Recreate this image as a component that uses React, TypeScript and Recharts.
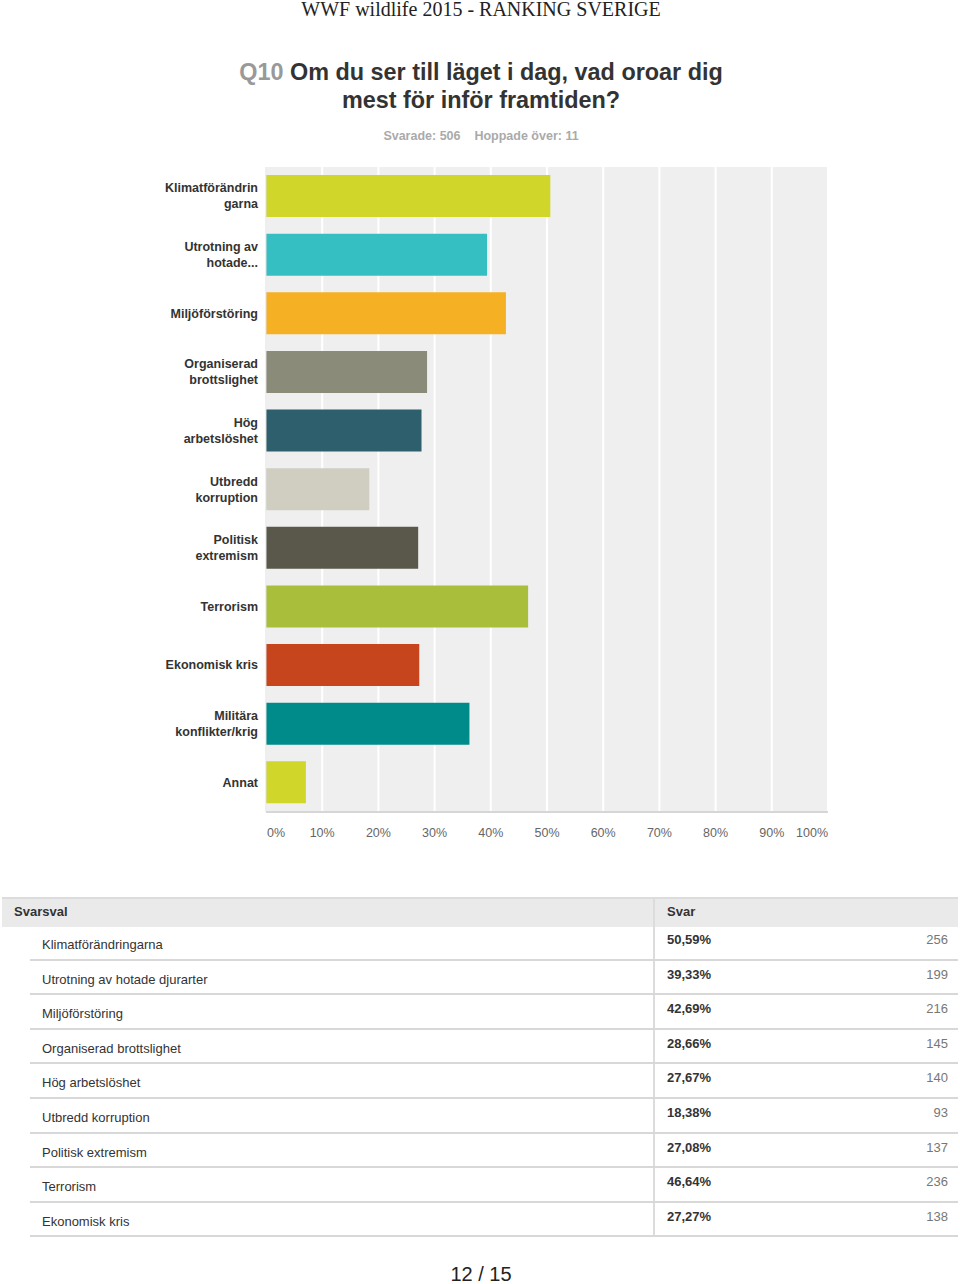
import { BarChart, Bar, XAxis, YAxis, CartesianGrid, Cell } from "recharts";

const categories = [
  "Klimatförändrin\ngarna",
  "Utrotning av\nhotade...",
  "Miljöförstöring",
  "Organiserad\nbrottslighet",
  "Hög\narbetslöshet",
  "Utbredd\nkorruption",
  "Politisk\nextremism",
  "Terrorism",
  "Ekonomisk kris",
  "Militära\nkonflikter/krig",
  "Annat",
];
const shares = [50.59, 39.33, 42.69, 28.66, 27.67, 18.38, 27.08, 46.64, 27.27, 36.2, 7.1];
const barColors = [
  "#d0d62a",
  "#36bfc3",
  "#f6b023",
  "#8b8b79",
  "#2d5f6d",
  "#d0cdc1",
  "#5a584a",
  "#a9bf3b",
  "#c6451d",
  "#008b8b",
  "#d0d62a",
];
const xTicks = [0, 10, 20, 30, 40, 50, 60, 70, 80, 90, 100];

const tableNames = [
  "Klimatförändringarna",
  "Utrotning av hotade djurarter",
  "Miljöförstöring",
  "Organiserad brottslighet",
  "Hög arbetslöshet",
  "Utbredd korruption",
  "Politisk extremism",
  "Terrorism",
  "Ekonomisk kris",
];
const tablePercents = ["50,59%", "39,33%", "42,69%", "28,66%", "27,67%", "18,38%", "27,08%", "46,64%", "27,27%"];
const tableCounts = [256, 199, 216, 145, 140, 93, 137, 236, 138];

const data = categories.map((name, i) => ({ name, value: shares[i] }));

const font = "'Liberation Sans', Arial, Helvetica, sans-serif";

const YTick = ({ x, y, payload }: any) => {
  const lines = String(payload.value).split("\n");
  const lh = 16;
  const start = -((lines.length - 1) * lh) / 2 + 4;
  return (
    <text x={x} y={y} textAnchor="end" fill="#333" fontSize={12.5} fontWeight="bold" fontFamily={font}>
      {lines.map((l, i) => (
        <tspan key={i} x={x} dy={i === 0 ? start : lh}>
          {l}
        </tspan>
      ))}
    </text>
  );
};

const XTick = ({ x, y, payload, index }: any) => {
  const anchor = index === 0 ? "start" : index === xTicks.length - 1 ? "end" : "middle";
  const dx = index === 0 ? 1 : 0;
  return (
    <text x={x + dx} y={y + 17} textAnchor={anchor} fill="#666" fontSize={12.5} fontFamily={font}>
      {payload.value}%
    </text>
  );
};

const ROW_TOP = 925;
const ROW_H = 34.6;

export default function App() {
  return (
    <div style={{ position: "absolute", left: 0, top: 0, width: 960, height: 1284, background: "#fff", fontFamily: font }}>
      <div
        style={{
          position: "absolute",
          top: -2,
          left: 0,
          width: 962,
          textAlign: "center",
          fontFamily: "'Liberation Serif', 'Times New Roman', serif",
          fontSize: 20,
          color: "#222",
        }}
      >
        WWF wildlife 2015 - RANKING SVERIGE
      </div>

      <div
        style={{
          position: "absolute",
          top: 58,
          left: 0,
          width: 962,
          textAlign: "center",
          fontSize: 23.4,
          fontWeight: "bold",
          color: "#333",
          lineHeight: "28px",
        }}
      >
        <span style={{ color: "#999" }}>Q10</span> Om du ser till läget i dag, vad oroar dig
        <br />
        mest för inför framtiden?
      </div>

      <div
        style={{
          position: "absolute",
          top: 129,
          left: 0,
          width: 962,
          textAlign: "center",
          fontSize: 12.5,
          fontWeight: "bold",
          color: "#aaa",
        }}
      >
        Svarade: 506&nbsp;&nbsp;&nbsp;&nbsp;Hoppade över: 11
      </div>

      <div style={{ position: "absolute", top: 0, left: 0 }}>
        <BarChart
          width={960}
          height={850}
          data={data}
          layout="vertical"
          margin={{ top: 167, right: 132, left: 0, bottom: 0 }}
          barCategoryGap={0}
        >
          <CartesianGrid horizontal={false} stroke="#fff" strokeWidth={2} fill="#efefef" />
          <XAxis
            type="number"
            domain={[0, 100]}
            ticks={xTicks}
            interval={0}
            tick={<XTick />}
            axisLine={{ stroke: "#d6d6d6", strokeWidth: 2 }}
            tickLine={false}
            height={38}
          />
          <YAxis
            type="category"
            dataKey="name"
            width={266}
            tick={<YTick />}
            interval={0}
            axisLine={{ stroke: "#dedede" }}
            tickLine={false}
          />
          <Bar dataKey="value" barSize={42} isAnimationActive={false}>
            {data.map((d, i) => (
              <Cell key={d.name} fill={barColors[i]} />
            ))}
          </Bar>
        </BarChart>
      </div>

      {/* Table */}
      <div style={{ position: "absolute", top: 897, left: 2, width: 956, height: 28, background: "#eaeaea", borderTop: "2px solid #dcdcdc" }} />
      <div style={{ position: "absolute", top: 904, left: 14, fontSize: 13, fontWeight: "bold", color: "#333" }}>Svarsval</div>
      <div style={{ position: "absolute", top: 904, left: 667, fontSize: 13, fontWeight: "bold", color: "#333" }}>Svar</div>
      <div style={{ position: "absolute", top: 897, left: 653, width: 2, height: 1236 - 897, background: "#dcdcdc" }} />
      {tableNames.map((name, i) => {
        const top = ROW_TOP + i * ROW_H;
        return (
          <div key={name}>
            <div style={{ position: "absolute", top: top + 12, left: 42, fontSize: 13, color: "#333" }}>{name}</div>
            <div style={{ position: "absolute", top: top + 7, left: 667, fontSize: 13, fontWeight: "bold", color: "#333" }}>
              {tablePercents[i]}
            </div>
            <div style={{ position: "absolute", top: top + 7, right: 12, fontSize: 13, color: "#777" }}>{tableCounts[i]}</div>
            <div style={{ position: "absolute", top: top + ROW_H - 1, left: 30, width: 928, height: 2, background: "#d8d8d8" }} />
          </div>
        );
      })}

      <div style={{ position: "absolute", top: 1263, left: 0, width: 962, textAlign: "center", fontSize: 20, color: "#222" }}>
        12 / 15
      </div>
    </div>
  );
}
